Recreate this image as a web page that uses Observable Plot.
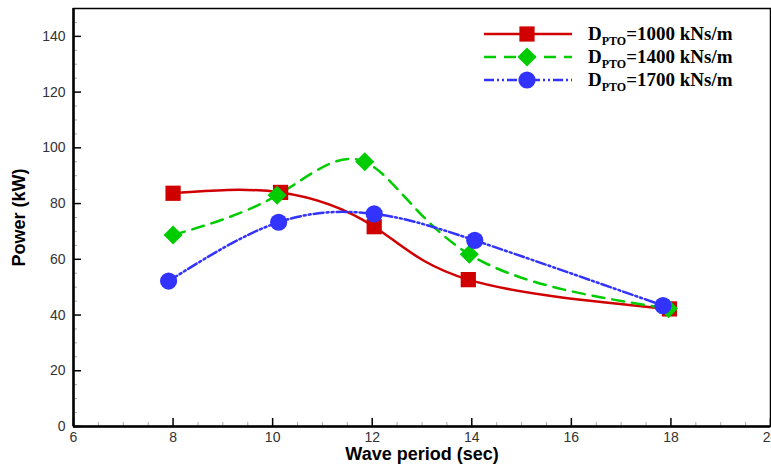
<!DOCTYPE html>
<html><head><meta charset="utf-8">
<script src="https://cdn.jsdelivr.net/npm/d3@7"></script>
<script src="https://cdn.jsdelivr.net/npm/@observablehq/plot@0.6"></script>
<style>
body{margin:0;background:#fff}
#wrap{position:relative;width:771px;height:468px}
#legend{position:absolute;left:484px;top:22px;font-family:"Liberation Serif","Times New Roman",serif;font-weight:bold;font-size:19px;color:#000}
.row{display:flex;align-items:center;height:23px;white-space:nowrap}
.row svg{margin-right:16px;display:block}
.sub{font-size:12px;position:relative;top:5px}
</style>
</head><body>
<div id="wrap"></div>
<script>
const periods1000 = [8.0, 10.16, 12.04, 13.93, 17.97];
const power1000   = [83.7, 84.0, 71.7, 52.7, 42.2];
const periods1400 = [8.0, 10.09, 11.85, 13.95, 17.95];
const power1400   = [68.7, 83.0, 95.0, 61.8, 42.3];
const periods1700 = [7.91, 10.12, 12.04, 14.06, 17.84];
const power1700   = [52.2, 73.3, 76.3, 66.8, 43.4];

const seriesNames = ["1000", "1400", "1700"];
const colors  = ["#d00000", "#00cc00", "#3333ff"];
const symbols = ["square", "diamond2", "circle"];
const dashes  = [null, "12,8", "10,3,2,3,2,3"];

const xTicks = [6, 8, 10, 12, 14, 16, 18, 20];
const yTicks = [0, 20, 40, 60, 80, 100, 120, 140];
const xMinor = d3.range(6, 20.01, 0.5).filter(v => !xTicks.includes(v));
const yMinor = d3.range(0, 150.01, 5).filter(v => !yTicks.includes(v));

const series = [
  {x: periods1000, y: power1000},
  {x: periods1400, y: power1400},
  {x: periods1700, y: power1700}
];

const W = 771, H = 468, mL = 73, mR = 1, mT = 8, mB = 42;
const innerW = W - mL - mR, innerH = H - mT - mB;

const marks = [];
series.forEach((s, i) => {
  marks.push(Plot.line(s.y, {x: s.x, y: s.y, curve: "natural", stroke: colors[i], strokeWidth: 2.5, strokeDasharray: dashes[i]}));
});
series.forEach((s, i) => {
  marks.push(Plot.dot(s.y, {x: s.x, y: s.y, symbol: symbols[i], r: 8.6, fill: colors[i], stroke: "none"}));
});

const chart = Plot.plot({
  width: W, height: H,
  marginLeft: mL, marginRight: mR, marginTop: mT, marginBottom: mB,
  style: {fontFamily: "'Liberation Sans', Arial, sans-serif", fontSize: "14px", background: "#fff"},
  x: {domain: [6, 20]},
  y: {domain: [0, 150]},
  marks: [
    Plot.tickX(xMinor, {x: d => d, stroke: "#aaa", strokeWidth: 1, insetTop: innerH - 4}),
    Plot.tickY(yMinor, {y: d => d, stroke: "#aaa", strokeWidth: 1, insetRight: innerW - 4}),
    Plot.tickX(xTicks, {x: d => d, stroke: "#000", strokeWidth: 1.5, insetTop: innerH - 8}),
    Plot.tickY(yTicks, {y: d => d, stroke: "#000", strokeWidth: 1.5, insetRight: innerW - 8}),
    ...marks,
    Plot.frame({stroke: "#000", strokeWidth: 1.5}),
    Plot.ruleX([6], {stroke: "#000", strokeWidth: 2.5}),
    Plot.ruleY([0], {stroke: "#000", strokeWidth: 2.5}),
    Plot.axisX(xTicks, {tickSize: 0, tickPadding: 6, label: null, fill: "#333", fontSize: 14}),
    Plot.axisY(yTicks, {tickSize: 0, tickPadding: 8, label: null, fill: "#333", fontSize: 14}),
    Plot.text(["Wave period (sec)"], {frameAnchor: "bottom", textAnchor: "middle", lineAnchor: "middle", dy: 28, fontWeight: "bold", fontSize: 18, fill: "#000"}),
    Plot.text(["Power (kW)"], {frameAnchor: "left", textAnchor: "middle", lineAnchor: "middle", dx: -54, rotate: -90, fontWeight: "bold", fontSize: 18, fill: "#000"})
  ]
});

const wrap = document.getElementById("wrap");
wrap.appendChild(chart);

const legend = document.createElement("div");
legend.id = "legend";
seriesNames.forEach((name, i) => {
  const row = document.createElement("div");
  row.className = "row";
  const svg = d3.create("svg").attr("width", 88).attr("height", 20);
  svg.append("line").attr("x1", 0).attr("x2", 88).attr("y1", 10).attr("y2", 10)
    .attr("stroke", colors[i]).attr("stroke-width", 2.5)
    .attr("stroke-dasharray", dashes[i]);
  const symType = {square: d3.symbolSquare, diamond2: d3.symbolDiamond2, circle: d3.symbolCircle}[symbols[i]];
  svg.append("path").attr("transform", "translate(43,10)")
    .attr("d", d3.symbol(symType, Math.PI * 8.6 * 8.6)()).attr("fill", colors[i]);
  row.appendChild(svg.node());
  const label = document.createElement("span");
  label.innerHTML = `D<span class="sub">PTO</span>=${name} kNs/m`;
  row.appendChild(label);
  legend.appendChild(row);
});
wrap.appendChild(legend);
</script>
</body></html>
